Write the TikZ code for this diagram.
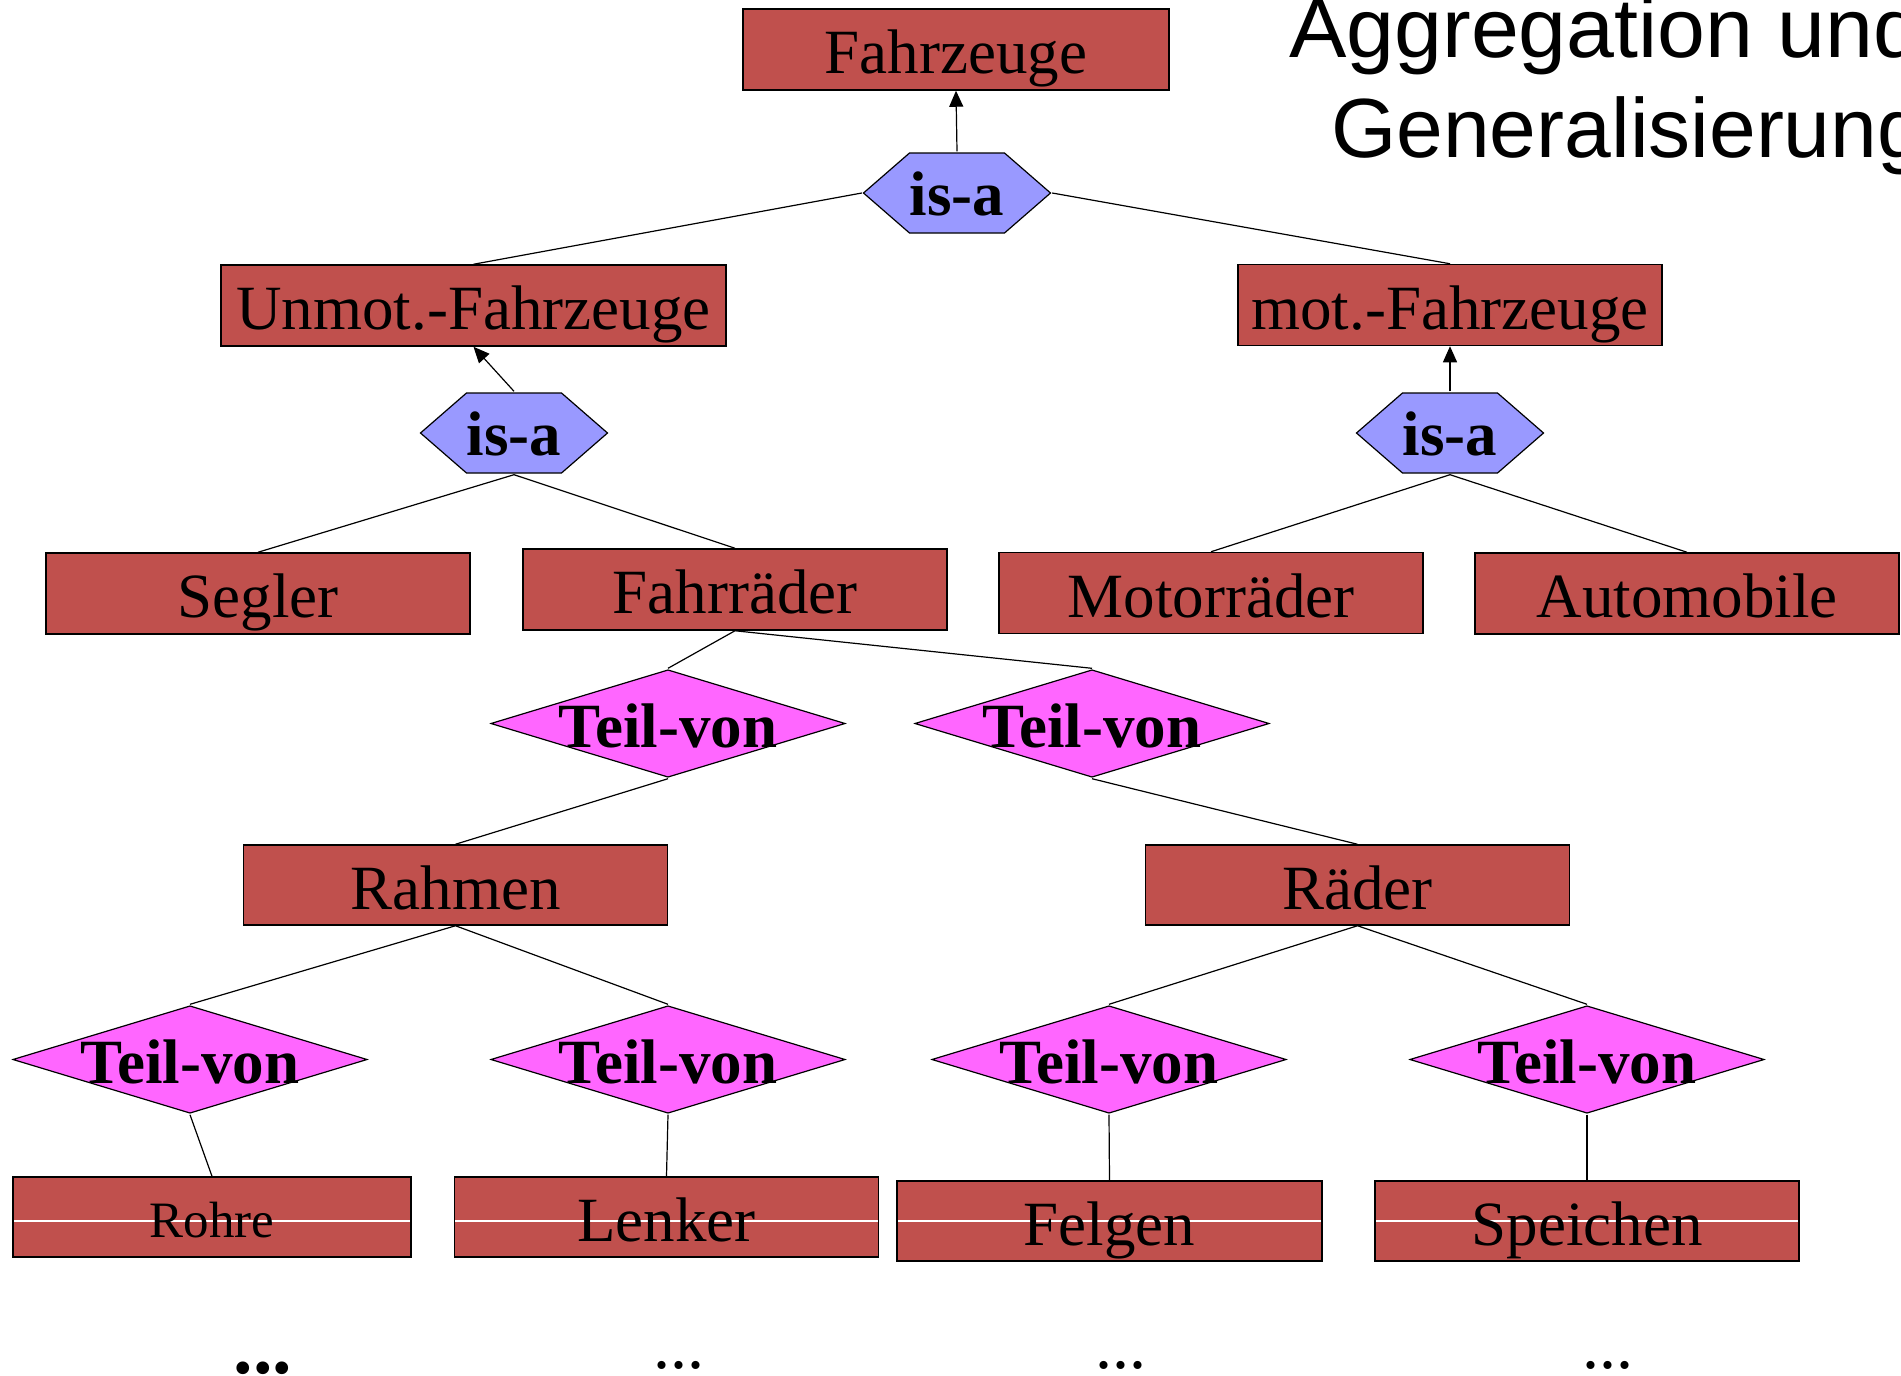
\documentclass[tikz,border=0pt]{standalone}
\usepackage{fontspec}
\setmainfont{Liberation Serif}
\newfontfamily\titlefont{Liberation Sans}
\usetikzlibrary{arrows.meta,calc}
\definecolor{boxred}{RGB}{192,80,77}
\definecolor{isablue}{RGB}{153,153,255}
\definecolor{teilpink}{RGB}{255,102,255}
\begin{document}
\begin{tikzpicture}[x=1pt,y=-1pt,
  ent/.style={draw=black, line width=1.5pt, fill=boxred, minimum width=424pt,
    minimum height=81pt, inner sep=0pt, text height=48pt, text depth=0pt,
    font=\fontsize{63}{70}\selectfont},
  entw/.style={ent, path picture={\draw[white,line width=1.3pt]
      ($(path picture bounding box.west)+(0,-#1)$) -- ($(path picture bounding box.east)+(0,-#1)$);}},
  entw/.default=0pt,
  isa/.style={minimum width=190pt, minimum height=83pt, inner sep=0pt,
    text height=44pt, text depth=0pt, font=\fontsize{63}{70}\selectfont\bfseries,
    path picture={\path[fill=isablue, draw=black, line width=1.2pt]
      ($(path picture bounding box.west)+(1.5pt,0)$)
      -- ($(path picture bounding box.north west)+(47.5pt,-1.5pt)$)
      -- ($(path picture bounding box.north east)+(-47.5pt,-1.5pt)$)
      -- ($(path picture bounding box.east)+(-1.5pt,0)$)
      -- ($(path picture bounding box.south east)+(-47.5pt,1.5pt)$)
      -- ($(path picture bounding box.south west)+(47.5pt,1.5pt)$) -- cycle;}},
  teil/.style={minimum width=357pt, minimum height=110pt, inner sep=0pt,
    text height=48pt, text depth=0pt, font=\fontsize{63}{70}\selectfont\bfseries,
    path picture={\path[fill=teilpink, draw=black, line width=1.2pt]
      ($(path picture bounding box.west)+(1.5pt,0)$)
      -- ($(path picture bounding box.north)+(0,-1.5pt)$)
      -- ($(path picture bounding box.east)+(-1.5pt,0)$)
      -- ($(path picture bounding box.south)+(0,1.5pt)$) -- cycle;}},
  conn/.style={draw=black, line width=1.2pt},
  arr/.style={conn, -{Triangle[length=16pt,width=14pt]}},
  dots/.style={anchor=base, font=\fontsize{68}{70}\selectfont},
  ttl/.style={anchor=base west, inner sep=0pt, font=\titlefont\fontsize{84}{90}\selectfont}
]
\useasboundingbox (0,0) rectangle (1901,1376);
\clip (0,0) rectangle (1901,1376);

% title
\node[ttl] (t1) at (1289,57) {\scalebox{1.025}[1]{Aggregation und}};
\node[ttl] (t2) at (1331,157) {Generalisierung};

% entities
\node[ent, minimum width=426pt] (fz) at (956,49.5) {Fahrzeuge};
\node[ent, minimum width=505pt] (unmot) at (473.5,305.5) {Unmot.-Fahrzeuge};
\node[ent] (mot) at (1450,305) {mot.-Fahrzeuge};
\node[ent] (segler) at (258,593.5) {Segler};
\node[ent] (fahrr) at (735,589.5) {Fahrräder};
\node[ent] (motor) at (1211,593) {Motorräder};
\node[ent] (auto) at (1687,593.5) {Automobile};
\node[ent, minimum height=80pt] (rahmen) at (455.5,885) {Rahmen};
\node[ent, minimum height=80pt] (raeder) at (1357.5,885) {Räder};
\node[entw=4pt, minimum width=398pt, minimum height=80pt, text height=40pt,
  font=\fontsize{51}{60}\selectfont] (rohre) at (212,1217) {Rohre};
\node[entw=4pt, minimum height=80pt] (lenker) at (666.5,1217) {Lenker};
\node[entw, minimum width=425pt, minimum height=80pt] (felgen) at (1109.5,1221) {Felgen};
\node[entw, minimum height=80pt] (speichen) at (1587,1221) {Speichen};

% relationships
\node[isa] (h1) at (957,193) {is-a};
\node[isa] (h2) at (514,433) {is-a};
\node[isa] (h3) at (1450,433) {is-a};
\node[teil] (d1) at (668,723.5) {Teil-von};
\node[teil] (d2) at (1092,723.5) {Teil-von};
\node[teil] (d3) at (190,1059.5) {Teil-von};
\node[teil] (d4) at (668,1059.5) {Teil-von};
\node[teil] (d5) at (1109,1059.5) {Teil-von};
\node[teil] (d6) at (1587,1059.5) {Teil-von};

% connectors
\draw[arr] (h1.north) -- (fz.south);
\draw[conn] (h1.west) -- (unmot.north);
\draw[conn] (h1.east) -- (mot.north);
\draw[arr] (h2.north) -- (unmot.south);
\draw[arr] (h3.north) -- (mot.south);
\draw[conn] (h2.south) -- (segler.north);
\draw[conn] (h2.south) -- (fahrr.north);
\draw[conn] (h3.south) -- (motor.north);
\draw[conn] (h3.south) -- (auto.north);
\draw[conn] (fahrr.south) -- (d1.north);
\draw[conn] (fahrr.south) -- (d2.north);
\draw[conn] (d1.south) -- (rahmen.north);
\draw[conn] (d2.south) -- (raeder.north);
\draw[conn] (rahmen.south) -- (d3.north);
\draw[conn] (rahmen.south) -- (d4.north);
\draw[conn] (raeder.south) -- (d5.north);
\draw[conn] (raeder.south) -- (d6.north);
\draw[conn] (d3.south) -- (rohre.north);
\draw[conn] (d4.south) -- (lenker.north);
\draw[conn] (d5.south) -- (felgen.north);
\draw[conn] (d6.south) -- (speichen.north);

% continuation dots
\node[dots, font=\fontsize{78}{80}\selectfont\bfseries] (e1) at (263,1373) {...};
\node[dots] (e2) at (679,1368) {...};
\node[dots] (e3) at (1121,1368) {...};
\node[dots] (e4) at (1608,1368) {...};
\end{tikzpicture}
\end{document}
